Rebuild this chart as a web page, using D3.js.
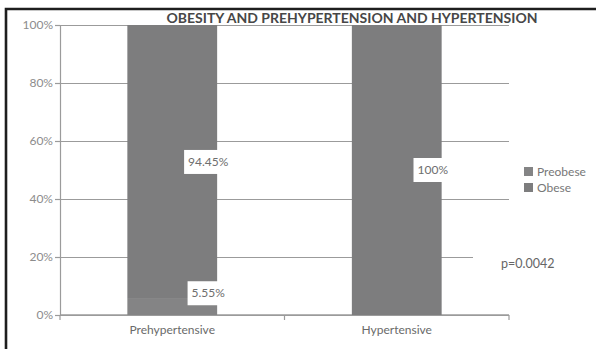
<!DOCTYPE html>
<html>
<head>
<meta charset="utf-8">
<script src="https://cdn.jsdelivr.net/npm/d3@7/dist/d3.min.js"></script>
<style>
  html, body { margin: 0; padding: 0; background: #fff; }
  svg { display: block; font-family: Lato, "Open Sans", sans-serif; }
</style>
</head>
<body>
<svg id="chart" width="596" height="349"></svg>
<script>
// Share of each weight group within each blood-pressure group (%)
const categories = ["Prehypertensive", "Hypertensive"];
const seriesNames = ["Preobese", "Obese"];
const preobese = [5.55, 0];
const obese = [94.45, 100];
const yTicks = [0, 20, 40, 60, 80, 100];
const title = "OBESITY AND PREHYPERTENSION AND HYPERTENSION";
const pValue = "p=0.0042";

const W = 596, H = 349;
const margin = { top: 25, right: 87, bottom: 34, left: 60 };
const svg = d3.select("#chart");

const x = d3.scaleBand()
  .domain(categories)
  .range([margin.left, W - margin.right])
  .paddingInner(0.6)
  .paddingOuter(0.3);

const y = d3.scaleLinear()
  .domain([0, 100])
  .range([H - margin.bottom, margin.top]);

const gridColor = "#9b9b9b";
const barColors = { Preobese: "#848485", Obese: "#7d7d7e" };

// frame along the left and top edges
svg.append("path")
  .attr("d", `M6,${H} V9 H${W}`)
  .attr("fill", "none")
  .attr("stroke", "#1e1e1e")
  .attr("stroke-width", 2.6);

// horizontal gridlines + y axis
const yAxis = d3.axisLeft(y)
  .tickValues(yTicks)
  .tickSize(-(W - margin.left - margin.right))
  .tickPadding(7)
  .tickFormat(d => d + "%");

const gy = svg.append("g")
  .attr("transform", `translate(${margin.left},0)`)
  .call(yAxis);
gy.select(".domain").attr("stroke", gridColor).attr("stroke-width", 1.2);
gy.selectAll(".tick line").attr("stroke", gridColor).attr("stroke-width", 1.2);
gy.selectAll(".tick text")
  .attr("fill", "#8c8c8c")
  .attr("font-size", 12)
  .attr("font-family", "Lato, sans-serif");
// short outer ticks to the left of the axis
gy.selectAll(".tick").append("line")
  .attr("x1", -5).attr("x2", 0)
  .attr("stroke", gridColor).attr("stroke-width", 1.2);

// x axis with boundary ticks between categories
const xBounds = [margin.left, margin.left + (W - margin.left - margin.right) / 2, W - margin.right];
svg.append("line")
  .attr("x1", margin.left).attr("x2", W - margin.right)
  .attr("y1", y(0)).attr("y2", y(0))
  .attr("stroke", gridColor).attr("stroke-width", 1.4);
svg.selectAll("line.xtick")
  .data(xBounds)
  .join("line")
  .attr("class", "xtick")
  .attr("x1", d => d).attr("x2", d => d)
  .attr("y1", y(0)).attr("y2", y(0) + 5)
  .attr("stroke", gridColor).attr("stroke-width", 1.2);

svg.selectAll("text.cat")
  .data(categories)
  .join("text")
  .attr("class", "cat")
  .attr("x", d => x(d) + x.bandwidth() / 2)
  .attr("y", y(0) + 19)
  .attr("text-anchor", "middle")
  .attr("font-size", 12)
  .attr("fill", "#6a6a6a")
  .text(d => d);

// stacked bars
const table = categories.map((c, i) => ({ category: c, Preobese: preobese[i], Obese: obese[i] }));
const stacked = d3.stack().keys(seriesNames)(table);

svg.append("g")
  .selectAll("g")
  .data(stacked)
  .join("g")
  .attr("fill", s => barColors[s.key])
  .selectAll("rect")
  .data(s => s.filter(d => d[1] > d[0]))
  .join("rect")
  .attr("x", d => x(d.data.category))
  .attr("width", x.bandwidth())
  .attr("y", d => y(d[1]))
  .attr("height", d => y(d[0]) - y(d[1]));

// data labels in white boxes, offset toward the bar's right edge
const labels = [];
stacked.forEach(s => {
  s.forEach(d => {
    const v = d[1] - d[0];
    if (v <= 0) return;
    labels.push({
      text: (Math.round(v * 100) / 100) + "%",
      cx: x(d.data.category) + x.bandwidth() / 2 + 36,
      cy: y(Math.max((d[0] + d[1]) / 2, 7.5))
    });
  });
});

const lg = svg.append("g")
  .selectAll("g")
  .data(labels)
  .join("g")
  .attr("transform", d => `translate(${d.cx},${d.cy})`);
lg.append("text")
  .attr("text-anchor", "middle")
  .attr("dy", "0.35em")
  .attr("font-size", 12)
  .attr("fill", "#6e6e6e")
  .text(d => d.text);
lg.each(function () {
  const g = d3.select(this);
  const bb = g.select("text").node().getBBox();
  g.insert("rect", "text")
    .attr("x", bb.x - 4).attr("y", -12)
    .attr("width", bb.width + 8).attr("height", 24)
    .attr("fill", "#fff");
});

// title
svg.append("text")
  .attr("x", (166 + 538) / 2)
  .attr("y", 23)
  .attr("text-anchor", "middle")
  .attr("font-size", 14)
  .attr("font-weight", "bold")
  .attr("fill", "#474747")
  .text(title);

// legend
const legend = svg.append("g")
  .attr("transform", `translate(${W - margin.right + 15},${y(100) + 142})`);
const li = legend.selectAll("g")
  .data(seriesNames)
  .join("g")
  .attr("transform", (d, i) => `translate(0,${i * 16})`);
li.append("rect")
  .attr("width", 9).attr("height", 9)
  .attr("fill", d => barColors[d]);
li.append("text")
  .attr("x", 13).attr("y", 5)
  .attr("dy", "0.35em")
  .attr("font-size", 12)
  .attr("fill", "#777")
  .text(d => d);

// significance note, boxed in white over the 20% gridline
const pg = svg.append("g")
  .attr("transform", `translate(${W - margin.right - 8},${y(20) + 7})`);
pg.append("rect")
  .attr("x", -28).attr("y", -12)
  .attr("width", 96).attr("height", 24)
  .attr("fill", "#fff");
pg.append("text")
  .attr("dy", "0.35em")
  .attr("font-size", 12.5)
  .attr("fill", "#666")
  .text(pValue);
</script>
</body>
</html>
